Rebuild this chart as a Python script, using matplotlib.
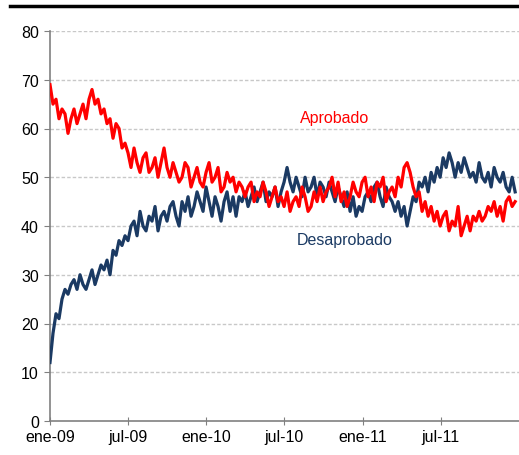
import numpy as np
import pandas as pd
import matplotlib
matplotlib.use("Agg")
import matplotlib.pyplot as plt

# Weekly approval series, Jan 2009 - Dec 2011 (%)
aprobado = [
    69, 65, 66, 62, 64, 63, 59, 62, 64, 61, 63, 65, 62,
    66, 68, 65, 66, 63, 64, 61, 62, 58, 61, 60, 56, 57,
    55, 52, 56, 53, 51, 54, 55, 51, 52, 54, 50, 53, 56,
    52, 50, 53, 51, 49, 50, 53, 52, 48, 50, 52, 49, 48,
    51, 53, 49, 50, 52, 47, 48, 51, 49, 50, 47, 49, 48,
    46, 48, 49, 45, 47, 46, 49, 47, 44, 46, 48, 45, 46,
    44, 47, 43, 45, 46, 44, 48, 46, 43, 44, 47, 45, 48,
    45, 47, 48, 50, 46, 49, 45, 47, 44, 46, 49, 47, 46,
    49, 50, 46, 48, 45, 49, 48, 50, 45, 47, 48, 46, 50,
    48, 52, 53, 51, 48, 46, 47, 43, 45, 42, 44, 41, 43,
    40, 42, 43, 39, 41, 40, 44, 38, 40, 42, 39, 42, 41,
    43, 41, 42, 44, 43, 45, 42, 44, 41, 45, 46, 44, 45,
]
desaprobado = [
    12, 18, 22, 21, 25, 27, 26, 28, 29, 27, 30, 28, 27,
    29, 31, 28, 30, 32, 31, 33, 30, 35, 34, 37, 36, 38,
    37, 40, 41, 38, 43, 40, 39, 42, 41, 44, 39, 42, 43,
    41, 44, 45, 42, 40, 45, 43, 46, 42, 44, 47, 45, 43,
    48, 45, 42, 46, 44, 41, 45, 47, 43, 46, 42, 46, 45,
    47, 44, 46, 48, 45, 47, 49, 45, 47, 46, 48, 44, 47,
    49, 52, 49, 47, 50, 48, 46, 50, 47, 48, 50, 46, 49,
    48, 46, 49, 47, 45, 48, 46, 44, 47, 43, 46, 42, 44,
    43, 46, 47, 45, 48, 49, 46, 44, 48, 46, 45, 43, 45,
    42, 44, 40, 43, 46, 45, 49, 48, 50, 47, 51, 49, 52,
    50, 54, 52, 55, 53, 50, 53, 51, 54, 52, 50, 51, 49,
    53, 50, 49, 51, 48, 52, 50, 49, 51, 48, 47, 50, 47,
]
fechas = pd.date_range("2009-01-01", periods=len(aprobado), freq="7D")

tick_fechas = pd.to_datetime(["2009-01-01", "2009-07-01", "2010-01-01",
                              "2010-07-01", "2011-01-01", "2011-07-01"])
tick_labels = ["ene-09", "jul-09", "ene-10", "jul-10", "ene-11", "jul-11"]

RED = "#FF0000"
NAVY = "#1B3A63"

plt.rcParams["font.family"] = ["Liberation Sans", "DejaVu Sans"]

fig = plt.figure(figsize=(5.19, 4.56), dpi=100)
ax = fig.add_axes([50 / 519, 34 / 456, 469 / 519, 390 / 456])

ax.plot(fechas, desaprobado, color=NAVY, lw=2.3, zorder=3)
ax.plot(fechas, aprobado, color=RED, lw=2.3, zorder=4)

ax.set_ylim(0, 80)
ax.set_yticks(range(0, 81, 10))
ax.set_xlim(pd.Timestamp("2009-01-01"), pd.Timestamp("2011-12-31"))
ax.set_xticks(tick_fechas)
ax.set_xticklabels(tick_labels)

for y in range(10, 81, 10):
    ax.axhline(y, color="#C8C8C8", lw=1, ls=(0, (2.5, 1.5)), zorder=1)

for side in ["top", "right"]:
    ax.spines[side].set_visible(False)
for side in ["left", "bottom"]:
    ax.spines[side].set_color("#808080")
    ax.spines[side].set_linewidth(1.2)

ax.tick_params(axis="y", direction="out", length=4, color="#808080",
               labelsize=11.5, pad=4)
ax.tick_params(axis="x", direction="inout", length=6, color="#808080",
               labelsize=11.5, pad=3)

ax.text(pd.Timestamp("2010-10-27"), 62.2, "Aprobado", color=RED,
        fontsize=11.5, ha="center", va="center")
ax.text(pd.Timestamp("2010-11-20"), 37.3, "Desaprobado", color=NAVY,
        fontsize=11.5, ha="center", va="center")

# black rule under the header
fig.add_artist(plt.Line2D([10 / 519, 1.0], [1 - 7 / 456, 1 - 7 / 456],
                          color="black", lw=2.5, transform=fig.transFigure))

fig.savefig("out.png", dpi=100)
